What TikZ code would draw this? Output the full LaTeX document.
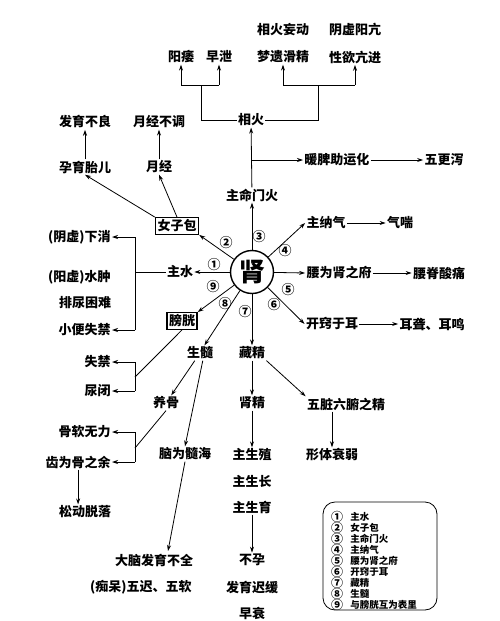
\documentclass[tikz,border=0pt]{standalone}
\usepackage{fontspec}
\setmainfont{Noto Sans CJK SC}
\usetikzlibrary{arrows.meta}
\begin{document}
\begin{tikzpicture}[x=1pt,y=-1pt,
  font=\fontsize{13}{15}\selectfont\bfseries,
  every node/.style={inner sep=1pt},
  line width=0.8pt,
  ar/.style={-{Stealth[length=6pt,width=4pt]}},
  boxed/.style={draw,line width=1.4pt,inner sep=2pt},
  num/.style={font=\fontsize{13}{13}\selectfont\bfseries,inner sep=0pt},
  legnum/.style={font=\fontsize{12}{12}\selectfont\bfseries,inner sep=0pt},
  legtxt/.style={font=\fontsize{9.5}{10}\selectfont\bfseries,inner sep=0pt,anchor=west}]
\useasboundingbox (0,0) rectangle (500,621);
\fill[white] (0,0) rectangle (500,621);

% centre
\node (shen) [circle,draw,line width=1.4pt,minimum size=43pt,inner sep=0pt,font=\fontsize{26}{26}\selectfont\bfseries] at (252,272) {肾};

% top
\node (t1) at (283,30) {相火妄动};
\node (t2) at (355,30) {阴虚阳亢};
\node (yw) at (181,57) {阳痿};
\node (zx) at (219,57) {早泄};
\node (my) at (283,57) {梦遗滑精};
\node (xy) at (355,57) {性欲亢进};
\node (xh) at (251,120) {相火};
\node (nw) [anchor=west] at (303,160) {暖脾助运化};
\node (wgx) at (444,160) {五更泻};
\node (mmh) at (252,195) {主命门火};

% upper left
\node (fy) at (85,122) {发育不良};
\node (yjbt) at (159,122) {月经不调};
\node (yy) at (85,167) {孕育胎儿};
\node (yj) at (159,167) {月经};
\node (nzb) [boxed] at (177,226) {女子包};

% left
\node (xx) [anchor=east] at (112,237) {(阴虚)下消};
\node (sz) [anchor=east] at (112,277) {(阳虚)水肿};
\node (pn) at (85,303) {排尿困难};
\node (xb) [anchor=east] at (112,330) {小便失禁};
\node (zs) at (180,272) {主水};
\node (pg) [boxed] at (182,321) {膀胱};
\node (sj) [anchor=east] at (112,362) {失禁};
\node (nb) [anchor=east] at (112,391) {尿闭};
\node (ss) at (200,353) {生髓};
\node (yg) at (166,403) {养骨};
\node (nwsh) at (185,454) {脑为髓海};
\node (grwl) [anchor=east] at (112,432) {骨软无力};
\node (cw) [anchor=east] at (112,462) {齿为骨之余};
\node (sd) at (85,512) {松动脱落};
\node (dn) at (154,560) {大脑发育不全};
\node (ch) [anchor=east] at (193,587) {(痴呆)五迟、五软};

% bottom middle
\node (cj) at (252,353) {藏精};
\node (sjing) at (252,403) {肾精};
\node (zsz) at (252,455) {主生殖};
\node (zsc) at (252,481) {主生长};
\node (zsy) at (252,507) {主生育};
\node (by) at (252,560) {不孕};
\node (fyc) at (252,587) {发育迟缓};
\node (zsh) at (252,613) {早衰};
\node (wz) at (346,404) {五脏六腑之精};
\node (xt) at (332,455) {形体衰弱};

% right
\node (znq) at (326,223) {主纳气};
\node (qc) at (400,223) {气喘};
\node (yw2) at (339,273) {腰为肾之府};
\node (yjs) at (439,273) {腰脊酸痛};
\node (kq) at (332,324) {开窍于耳};
\node (el) at (432,324) {耳聋、耳鸣};

% top brackets
\coordinate (a1) at (181,85); \coordinate (a2) at (219,85);
\coordinate (a3) at (201,85); \coordinate (a4) at (201,120);
\draw (a1) -- (a2);
\draw[ar] (a1) -- (yw);
\draw[ar] (a2) -- (zx);
\draw (a3) -- (a4) -- (xh.west);
\coordinate (b1) at (283,85); \coordinate (b2) at (355,85);
\coordinate (b3) at (318,85); \coordinate (b4) at (318,120);
\draw (b1) -- (b2);
\draw[ar] (b1) -- (my);
\draw[ar] (b2) -- (xy);
\draw (b3) -- (b4) -- (xh.east);

\draw[ar] (mmh) -- (xh);
\coordinate (c1) at (252,160);
\draw[ar] (c1) -- (nw.west);
\draw[ar] (nw) -- (wgx);

% upper left arrows
\draw[ar] (yy) -- (fy);
\draw[ar] (yj) -- (yjbt);
\draw[ar] (nzb.north west) -- (yy.south);
\draw[ar] (nzb.north) -- (yj.south);

% kidney spokes
\draw[ar] (shen) -- (zs);
\draw[ar] (shen) -- (nzb.south east);
\draw[ar] (shen) -- (mmh);
\draw[ar] (shen) -- (znq.west);
\draw[ar] (shen) -- (yw2.west);
\draw[ar] (shen) -- (kq.west);
\draw[ar] (shen) -- (cj);
\draw[ar] (shen) -- (ss.60);
\draw[ar] (shen) -- (pg.north east);

\node[num] at (214,265) {①};
\node[num] at (226,243) {②};
\node[num] at (259,237) {③};
\node[num] at (285,251) {④};
\node[num] at (288,290) {⑤};
\node[num] at (274,305) {⑥};
\node[num] at (245,312) {⑦};
\node[num] at (225,304) {⑧};
\node[num] at (213,287) {⑨};

% right arrows
\draw[ar] (znq) -- (qc);
\draw[ar] (yw2) -- (yjs);
\draw[ar] (kq) -- (el);

% 主水 bracket
\coordinate (d0) at (135,272); \coordinate (d1) at (135,237); \coordinate (d2) at (135,330);
\draw (zs.west) -- (d0);
\draw (d1) -- (d2);
\draw[ar] (d1) -- (xx.east);
\draw[ar] (d2) -- (xb.east);

% 膀胱 bracket
\coordinate (e0) at (135,377); \coordinate (e1) at (135,362); \coordinate (e2) at (135,391);
\draw (pg.south) -- (e0);
\draw (e1) -- (e2);
\draw[ar] (e1) -- (sj.east);
\draw[ar] (e2) -- (nb.east);

% 生髓
\draw[ar] (ss) -- (yg);
\draw[ar] (ss.-70) -- (nwsh.north);
\coordinate (f0) at (135,448); \coordinate (f1) at (135,432); \coordinate (f2) at (135,462);
\draw (yg.south) -- (f0);
\draw (f1) -- (f2);
\draw[ar] (f1) -- (grwl.east);
\draw[ar] (f2) -- (cw.east);
\draw[ar] (cw.south) -- (cw.south |- sd.north);
\coordinate (g1) at (168,551);
\draw[ar] (nwsh.south) -- (g1);

% 藏精
\draw[ar] (cj) -- (sjing);
\draw[ar] (sjing) -- (zsz);
\draw[ar] (cj.south east) -- (wz.north west);
\draw[ar] (wz.south -| xt) -- (xt.north);
\draw[ar] (zsy) -- (by);

% legend
\node (leg) [draw,rounded corners=12pt,line width=0.8pt,minimum width=114pt,minimum height=108pt,inner sep=0pt] at (380,556) {};
\foreach \n/\t [count=\i from 0] in {①/主水,②/女子包,③/主命门火,④/主纳气,⑤/腰为肾之府,⑥/开窍于耳,⑦/藏精,⑧/生髓,⑨/与膀胱互为表里}{
  \node[legnum] at (337,517+11*\i) {\n};
  \node[legtxt] at (350,517+11*\i) {\t};
}
\end{tikzpicture}
\end{document}
